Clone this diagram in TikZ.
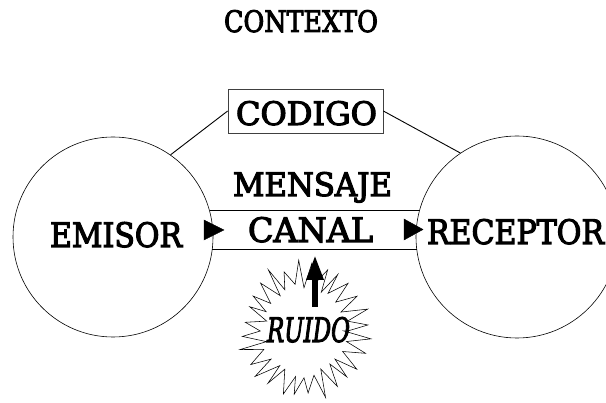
\documentclass[tikz,border=0pt]{standalone}
\usepackage{fontspec}
\setmainfont{DejaVu Serif Condensed}[FakeBold=3.2]
\usepackage{graphicx}
\usetikzlibrary{arrows.meta}
\tikzset{
  lbl/.style={anchor=base west, inner sep=0pt, outer sep=0pt},
  bigcircle/.style={draw, circle, line width=0.6pt, inner sep=0pt},
  thinline/.style={line width=0.9pt},
  tri/.style={fill=black, draw=black, line width=0.4pt},
  starline/.style={line width=0.55pt, line join=miter, miter limit=20},
}
\begin{document}
\begin{tikzpicture}[x=1pt,y=-1pt]
\useasboundingbox (0,0) rectangle (606,403);
% circles
\node[bigcircle, minimum size=200pt] (emisor) at (113,237) {};
\node[bigcircle, minimum size=202pt] (receptor) at (517,237) {};
% codigo box
\node[draw=black!75, line width=0.7pt, minimum width=155pt, minimum height=44pt, inner sep=0pt] (codigo) at (305.5,111) {};
\draw[thinline] (codigo.west) -- (emisor.55);
\draw[thinline] (codigo.east) -- (receptor.124.5);
% canal lines
\coordinate (tl) at (209.5,210);
\coordinate (tr) at (419.5,210);
\coordinate (bl) at (212.3,249);
\coordinate (br) at (416.7,249);
\draw[thinline] (tl) -- (tr);
\draw[thinline] (bl) -- (br);
% triangles
\draw[tri] (204,220) -- (224,230) -- (204,240) -- cycle;
\draw[tri] (404,219) -- (423,229.5) -- (404,240) -- cycle;
% starburst
\pgfmathsetseed{23}
\draw[starline, shift={(304,331)}] (0:40 and 44)
  \foreach \i in {1,...,28} { -- ({\i*360/28-6.4+3*rnd}:{58+10*rnd} and {62+10*rnd}) -- ({\i*360/28}:{38+7*rnd} and {42+7*rnd}) } -- cycle;
% texts
\node[lbl] (contexto) at (224,32) {\resizebox{154pt}{22pt}{CONTEXTO}};
\node[lbl] (codigotxt) at (236,125) {\resizebox{141pt}{24pt}{CODIGO}};
\node[lbl] (mensaje) at (233,196) {\resizebox{159pt}{24pt}{MENSAJE}};
\node[lbl] (canal) at (248,242) {\resizebox{125pt}{25pt}{CANAL}};
\node[lbl] (emisortxt) at (50,247) {\resizebox{132pt}{25pt}{EMISOR}};
\node[lbl] (receptortxt) at (427,244) {\resizebox{177pt}{25pt}{RECEPTOR}};
\node[lbl] (ruido) at (267,342) {\resizebox{83pt}{25pt}{\itshape RUIDO}};
% arrow
\coordinate (abot) at (315,307);
\coordinate (atop) at (315,255);
\draw[line width=6pt, -{Triangle[length=25pt, width=16pt]}] (abot) -- (atop);
\end{tikzpicture}
\end{document}
